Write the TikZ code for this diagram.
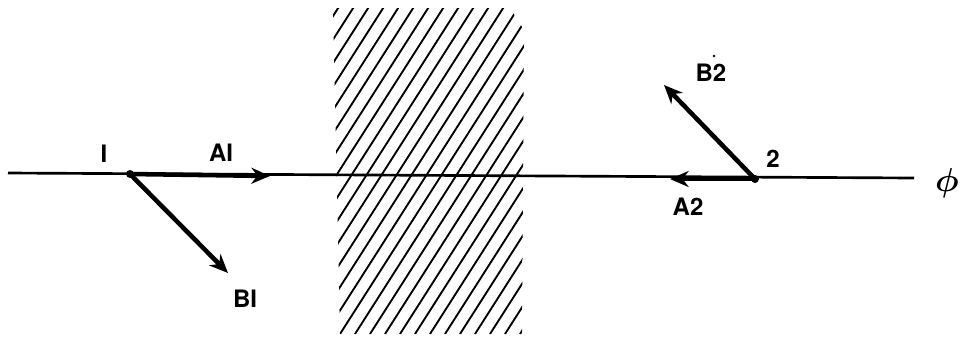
\documentclass[tikz,border=0pt]{standalone}
\usepackage{fontspec}
\setsansfont{TeX Gyre Heros}
\usetikzlibrary{arrows.meta}
\begin{document}
\begin{tikzpicture}[x=0.75pt,y=-0.75pt,
  lbl/.style={font=\sffamily\bfseries\fontsize{18}{20}\selectfont, inner sep=0pt},
  vec/.style={line width=3.4pt, -{Stealth[length=14pt,width=12pt]}},
  axis/.style={line width=2pt},
  hatch/.style={line width=1.4pt}]
\useasboundingbox (0,0) rectangle (964,337);
% hatched slab
\begin{scope}
  \clip (333,8) -- (510,8) -- (524,30) -- (522,334) -- (340,334) -- cycle;
  \foreach \k in {0,...,28} {
    \draw[hatch] (130+\k*15,334) -- ++(212,-332);
  }
\end{scope}
% axis
\coordinate (L) at (8,173);
\coordinate (R) at (914,178);
\draw[axis] (L) -- (R);
% points
\coordinate (p1) at (130,174);
\coordinate (p2) at (755,179);
\coordinate (a1) at (270,176);
\coordinate (b1) at (228,273);
\coordinate (a2) at (670,179);
\coordinate (b2) at (664,85);
\fill (p1) circle (3pt);
\fill (p2) circle (3pt);
\draw[vec] (p1) -- (a1);
\draw[vec] (p1) -- (b1);
\draw[vec] (p2) -- (a2);
\draw[vec] (p2) -- (b2);
% labels
\node[lbl] (n1) at (104,154) {I};
\node[lbl] (nA1) at (221,153) {AI};
\node[lbl] (nB1) at (245,299) {BI};
\node[lbl] (n2) at (773,159) {2};
\node[lbl] (nA2) at (688,207) {A2};
\node[lbl] (nB2) at (711,73) {B2};
\fill (714,56) circle (1pt);
\node[inner sep=0pt, font=\fontsize{30}{32}\selectfont\boldmath] (phi) at (947,183) {$\phi$};
\end{tikzpicture}
\end{document}
